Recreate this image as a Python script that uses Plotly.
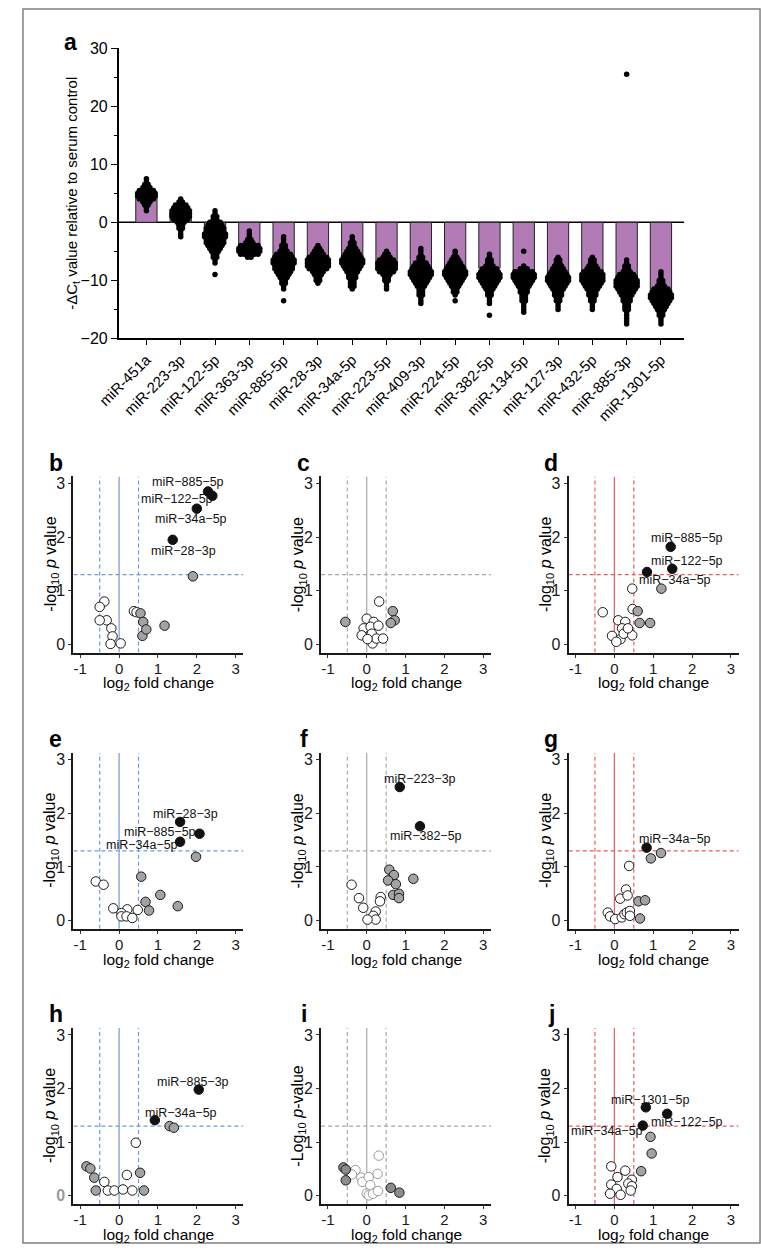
import plotly.graph_objects as go

W, H = 761, 1254
FONT = "Liberation Sans, Arial, Helvetica, sans-serif"

# ---------------- panel a data ----------------
categories = ["miR-451a", "miR-223-3p", "miR-122-5p", "miR-363-3p", "miR-885-5p", "miR-28-3p",
              "miR-34a-5p", "miR-223-5p", "miR-409-3p", "miR-224-5p", "miR-382-5p", "miR-134-5p",
              "miR-127-3p", "miR-432-5p", "miR-885-3p", "miR-1301-5p"]
bar_means = [4.8, 1.6, -2.0, -4.5, -6.8, -6.7, -6.7, -7.3, -8.1, -7.9, -7.9, -9.5, -10.0, -9.8, -10.7, -13.3]

# individual samples, read as value levels and the number of dots drawn at each level
lv_451a = [7.5, 7.0, 6.5, 6.0, 5.5, 5.0, 4.5, 4.0, 3.5, 3.0, 2.5, 2.0]
ct_451a = [1, 1, 2, 3, 5, 6, 6, 5, 3, 2, 1, 1]
lv_223_3p = [4.0, 3.5, 3.0, 2.5, 2.0, 1.5, 1.0, 0.5, 0.0, -0.5, -1.0, -1.5, -2.0, -2.5]
ct_223_3p = [1, 2, 4, 5, 6, 6, 6, 5, 3, 2, 2, 1, 1, 1]
lv_122_5p = [2.0, 1.5, 1.0, 0.5, 0.0, -0.5, -1.0, -1.5, -2.0, -2.5, -3.0, -3.5, -4.0, -4.5, -5.0, -5.5,
             -6.0, -6.5, -7.0, -9.0]
ct_122_5p = [1, 1, 2, 2, 4, 5, 6, 6, 7, 7, 6, 6, 5, 4, 3, 2, 2, 1, 1, 1]
lv_363_3p = [-1.5, -2.0, -2.5, -3.0, -3.5, -4.0, -4.5, -5.0, -5.5, -6.0]
ct_363_3p = [1, 1, 1, 2, 3, 6, 7, 7, 6, 2]
lv_885_5p = [-2.5, -3.0, -3.5, -4.0, -4.5, -5.0, -5.5, -6.0, -6.5, -7.0, -7.5, -8.0, -8.5, -9.0, -9.5,
             -10.0, -10.5, -11.0, -11.5, -13.5]
ct_885_5p = [1, 1, 1, 2, 2, 3, 5, 6, 7, 7, 6, 6, 5, 4, 3, 2, 2, 1, 1, 1]
lv_28_3p = [-4.0, -4.5, -5.0, -5.5, -6.0, -6.5, -7.0, -7.5, -8.0, -8.5, -9.0, -9.5, -10.0, -10.5]
ct_28_3p = [1, 2, 3, 4, 6, 7, 7, 7, 6, 4, 3, 2, 2, 1]
lv_34a_5p = [-2.5, -3.0, -3.5, -4.0, -4.5, -5.0, -5.5, -6.0, -6.5, -7.0, -7.5, -8.0, -8.5, -9.0, -9.5,
             -10.0, -10.5, -11.0, -11.5]
ct_34a_5p = [1, 1, 2, 2, 3, 4, 5, 6, 7, 7, 6, 5, 4, 3, 3, 2, 2, 2, 1]
lv_223_5p = [-5.0, -5.5, -6.0, -6.5, -7.0, -7.5, -8.0, -8.5, -9.0, -9.5, -10.0, -10.5, -11.0, -11.5]
ct_223_5p = [1, 2, 3, 5, 6, 6, 6, 5, 3, 2, 2, 1, 1, 1]
lv_409_3p = [-4.5, -5.0, -5.5, -6.0, -6.5, -7.0, -7.5, -8.0, -8.5, -9.0, -9.5, -10.0, -10.5, -11.0, -11.5,
             -12.0, -12.5, -13.0, -13.5, -14.0]
ct_409_3p = [1, 1, 1, 2, 2, 4, 5, 6, 7, 7, 6, 5, 4, 3, 2, 2, 2, 1, 1, 1]
lv_224_5p = [-5.0, -5.5, -6.0, -6.5, -7.0, -7.5, -8.0, -8.5, -9.0, -9.5, -10.0, -10.5, -11.0, -11.5, -12.0,
             -12.5, -13.5]
ct_224_5p = [1, 1, 2, 3, 4, 5, 6, 7, 7, 6, 5, 4, 3, 2, 2, 1, 1]
lv_382_5p = [-5.5, -6.0, -6.5, -7.0, -7.5, -8.0, -8.5, -9.0, -9.5, -10.0, -10.5, -11.0, -11.5, -12.0, -12.5,
             -13.0, -13.5, -14.0, -16.0]
ct_382_5p = [1, 1, 2, 2, 3, 5, 6, 7, 7, 6, 5, 4, 3, 2, 2, 1, 1, 1, 1]
lv_134_5p = [-5.0, -7.5, -8.0, -8.5, -9.0, -9.5, -10.0, -10.5, -11.0, -11.5, -12.0, -12.5, -13.0, -13.5,
             -14.0, -14.5, -15.0, -15.5]
ct_134_5p = [1, 1, 3, 6, 7, 7, 6, 5, 4, 3, 3, 2, 2, 2, 1, 1, 1, 1]
lv_127_3p = [-6.0, -6.5, -7.0, -7.5, -8.0, -8.5, -9.0, -9.5, -10.0, -10.5, -11.0, -11.5, -12.0, -12.5, -13.0,
             -13.5, -14.0, -14.5, -15.0]
ct_127_3p = [1, 2, 2, 3, 4, 5, 6, 7, 7, 6, 5, 4, 3, 3, 2, 2, 1, 1, 1]
lv_432_5p = [-6.0, -6.5, -7.0, -7.5, -8.0, -8.5, -9.0, -9.5, -10.0, -10.5, -11.0, -11.5, -12.0, -12.5, -13.0,
             -13.5, -14.0, -14.5, -15.0]
ct_432_5p = [1, 2, 2, 3, 4, 6, 7, 7, 7, 6, 5, 4, 3, 3, 2, 2, 1, 1, 1]
lv_885_3p = [25.5, -6.5, -7.0, -7.5, -8.0, -8.5, -9.0, -9.5, -10.0, -10.5, -11.0, -11.5, -12.0, -12.5,
             -13.0, -13.5, -14.0, -14.5, -15.0, -15.5, -16.0, -16.5, -17.0, -17.5]
ct_885_3p = [1, 1, 1, 2, 2, 3, 5, 6, 7, 7, 7, 6, 5, 4, 3, 3, 2, 2, 2, 1, 1, 1, 1, 1]
lv_1301_5p = [-8.5, -9.0, -9.5, -10.0, -10.5, -11.0, -11.5, -12.0, -12.5, -13.0, -13.5, -14.0, -14.5, -15.0,
              -15.5, -16.0, -16.5, -17.0, -17.5]
ct_1301_5p = [1, 1, 1, 2, 2, 3, 5, 6, 7, 7, 6, 5, 4, 3, 2, 2, 1, 1, 1]

swarm_levels = [lv_451a, lv_223_3p, lv_122_5p, lv_363_3p, lv_885_5p, lv_28_3p, lv_34a_5p, lv_223_5p,
                lv_409_3p, lv_224_5p, lv_382_5p, lv_134_5p, lv_127_3p, lv_432_5p, lv_885_3p, lv_1301_5p]
swarm_counts = [ct_451a, ct_223_3p, ct_122_5p, ct_363_3p, ct_885_5p, ct_28_3p, ct_34a_5p, ct_223_5p,
                ct_409_3p, ct_224_5p, ct_382_5p, ct_134_5p, ct_127_3p, ct_432_5p, ct_885_3p, ct_1301_5p]

# ---------------- volcano data (log2 FC, -log10 p, group n/g/s) ----------------
b_x = [-0.38, -0.5, -0.32, -0.5, -0.2, -0.17, -0.22, 0.04, 0.38, 0.45, 0.6, 0.55, 0.62, 0.7, 1.17, 1.9, 2.29, 2.4, 2.0, 1.38]
b_y = [0.8, 0.7, 0.45, 0.45, 0.3, 0.15, 0.01, 0.02, 0.62, 0.6, 0.16, 0.58, 0.42, 0.28, 0.35, 1.27, 2.85, 2.77, 2.53, 1.95]
b_grp = "nnnnnnnnnnggggggssss"
b_lab = ["miR−885−5p", "miR−122−5p", "miR−34a−5p", "miR−28−3p"]
b_lab_x = [1.77, 1.49, 1.84, 1.65]
b_lab_y = [3.03, 2.71, 2.33, 1.75]

c_x = [0.32, 0.0, 0.18, -0.08, 0.1, 0.3, -0.13, 0.13, 0.15, 0.25, 0.42, 0.02, -0.55, 0.67, 0.72, 0.62]
c_y = [0.8, 0.48, 0.42, 0.3, 0.33, 0.35, 0.17, 0.2, 0.02, 0.11, 0.11, 0.1, 0.42, 0.62, 0.45, 0.4]
c_grp = "nnnnnnnnnnnngggg"

d_x = [0.46, 0.47, -0.3, 0.1, 0.28, 0.2, -0.06, 0.16, 0.24, 0.46, 0.05, 0.35, 1.21, 0.6, 0.65, 0.92, 1.45, 1.49, 0.84]
d_y = [1.04, 0.66, 0.6, 0.45, 0.42, 0.3, 0.16, 0.1, 0.2, 0.17, 0.05, 0.3, 1.04, 0.62, 0.4, 0.4, 1.82, 1.41, 1.35]
d_grp = "nnnnnnnnnnnnggggsss"
d_lab = ["miR−885−5p", "miR−122−5p", "miR−34a−5p"]
d_lab_x = [1.88, 1.86, 1.55]
d_lab_y = [1.98, 1.56, 1.21]

e_x = [-0.6, -0.4, -0.15, 0.21, 0.48, 0.06, 0.06, 0.19, 0.34, 0.57, 0.68, 1.06, 0.77, 1.51, 1.98, 1.57, 2.07, 1.57]
e_y = [0.73, 0.67, 0.23, 0.21, 0.2, 0.14, 0.08, 0.08, 0.05, 0.82, 0.35, 0.48, 0.19, 0.27, 1.19, 1.84, 1.62, 1.47]
e_grp = "nnnnnnnnnggggggsss"
e_lab = ["miR−28−3p", "miR−885−5p", "miR−34a−5p"]
e_lab_x = [1.71, 1.06, 0.59]
e_lab_y = [1.98, 1.65, 1.41]

f_x = [-0.39, -0.2, 0.36, 0.34, -0.09, 0.23, 0.17, 0.23, 0.02, 0.58, 0.7, 0.55, 0.75, 1.2, 0.68, 0.83, 0.83, 0.85, 1.37]
f_y = [0.67, 0.42, 0.44, 0.36, 0.24, 0.17, 0.09, 0.02, 0.02, 0.95, 0.85, 0.75, 0.68, 0.78, 0.48, 0.5, 0.42, 2.49, 1.76]
f_grp = "nnnnnnnnnggggggggss"
f_lab = ["miR−223−3p", "miR−382−5p"]
f_lab_x = [1.36, 1.53]
f_lab_y = [2.64, 1.58]

g_x = [0.38, 0.3, 0.15, 0.34, -0.17, -0.11, 0.02, 0.19, 0.26, 0.32, 0.4, 0.4, 1.2, 0.94, 0.62, 0.79, 0.66, 0.83]
g_y = [1.02, 0.58, 0.41, 0.47, 0.15, 0.08, 0.03, 0.06, 0.12, 0.15, 0.18, 0.09, 1.26, 1.16, 0.36, 0.38, 0.04, 1.36]
g_grp = "nnnnnnnnnnnngggggs"
g_lab = ["miR−34a−5p"]
g_lab_x = [1.55]
g_lab_y = [1.53]

h_x = [0.43, -0.38, -0.29, -0.12, 0.1, 0.2, 0.34, 1.30, 1.41, -0.84, -0.74, -0.64, -0.6, 0.54, 0.64, 2.05, 0.92]
h_y = [0.99, 0.26, 0.1, 0.1, 0.12, 0.39, 0.1, 1.3, 1.27, 0.55, 0.51, 0.34, 0.1, 0.43, 0.1, 1.98, 1.41]
h_grp = "nnnnnnnggggggggss"
h_lab = ["miR−885−3p", "miR−34a−5p"]
h_lab_x = [1.89, 1.59]
h_lab_y = [2.12, 1.54]

i_x = [-0.29, -0.38, -0.14, -0.11, 0.05, 0.09, 0.0, 0.05, 0.16, 0.29, 0.28, 0.31, -0.6, -0.54, -0.54, 0.62, 0.84]
i_y = [0.48, 0.4, 0.34, 0.26, 0.35, 0.2, 0.04, 0.01, 0.04, 0.09, 0.41, 0.75, 0.53, 0.49, 0.29, 0.15, 0.06]
i_grp = "nnnnnnnnnnnnggggg"

j_x = [-0.08, 0.28, 0.08, 0.45, 0.36, 0.45, -0.08, 0.06, 0.16, -0.11, 0.42, 0.93, 0.96, 0.69, 0.81, 1.36, 0.73]
j_y = [0.55, 0.47, 0.35, 0.3, 0.23, 0.18, 0.21, 0.13, 0.02, 0.04, 0.1, 1.1, 0.79, 0.46, 1.65, 1.53, 1.31]
j_grp = "nnnnnnnnnnngggsss"
j_lab = ["miR−1301−5p", "miR−122−5p", "miR−34a−5p"]
j_lab_x = [0.94, 1.88, -0.18]
j_lab_y = [1.79, 1.37, 1.21]

# ---------------- styling ----------------
BAR_COLOR = "#B37BB5"
BLUE, GREY, RED = "#6E9BDB", "#A9A9A9", "#EE5B5B"


def fx(px):
    return px / W


def fy(py):
    return 1 - py / H


fig = go.Figure()
annotations = []
shapes = []

# ---------------- panel a ----------------
A_LEFT, A_RIGHT, A_TOP, A_BOT = 99.5, 682.0, 40.7, 335.0
XR = (-0.81, 15.68)
YR = (-20, 30)
px_per_cat = (A_RIGHT - A_LEFT) / (XR[1] - XR[0])
DOT_GAP = 3.6  # horizontal spacing of dots within one row, in pixels

fig.add_trace(go.Bar(x=list(range(len(categories))), y=bar_means, width=0.62,
                     marker=dict(color=BAR_COLOR, line=dict(color="#222222", width=1)),
                     xaxis="x", yaxis="y", showlegend=False))
sx, sy = [], []
for ci, (levels, counts) in enumerate(zip(swarm_levels, swarm_counts)):
    for lv, k in zip(levels, counts):
        for j in range(k):
            off_px = (j - (k - 1) / 2.0) * DOT_GAP
            sx.append(ci + off_px / px_per_cat)
            sy.append(lv)
fig.add_trace(go.Scatter(x=sx, y=sy, mode="markers", marker=dict(color="black", size=5.5),
                         xaxis="x", yaxis="y", showlegend=False, hoverinfo="skip"))

shapes.append(dict(type="line", xref="x", yref="y", x0=XR[0], x1=XR[1], y0=0, y1=0,
                   line=dict(color="black", width=1.5), layer="below"))

layout = dict(
    width=W, height=H, margin=dict(l=0, r=0, t=0, b=0),
    paper_bgcolor="white", plot_bgcolor="white", showlegend=False,
    font=dict(family=FONT, color="black"),
    xaxis=dict(domain=[fx(A_LEFT), fx(A_RIGHT)], range=list(XR), tickmode="array",
               tickvals=list(range(len(categories))), ticktext=categories, tickangle=-45,
               ticks="outside", ticklen=5, tickcolor="black", showline=True, linecolor="black",
               linewidth=1.5, showgrid=False, zeroline=False, tickfont=dict(size=15), anchor="y"),
    yaxis=dict(domain=[fy(A_BOT), fy(A_TOP)], range=list(YR), tickmode="array",
               tickvals=[-20, -10, 0, 10, 20, 30], ticks="outside", ticklen=6, tickcolor="black",
               showline=True, linecolor="black", linewidth=1.5, showgrid=False, zeroline=False,
               tickfont=dict(size=16),
               minor=dict(tickvals=[-15, -5, 5, 15, 25], ticks="outside", ticklen=3, tickcolor="black"),
               anchor="x"),
)
annotations.append(dict(text="<b>a</b>", x=fx(50), y=fy(34), xref="paper", yref="paper",
                        showarrow=False, font=dict(size=23), xanchor="center", yanchor="middle"))
annotations.append(dict(text="-ΔC<sub>t</sub> value relative to serum control", x=fx(52),
                        y=fy((A_TOP + A_BOT) / 2), xref="paper", yref="paper", showarrow=False,
                        textangle=-90, font=dict(size=15), xanchor="center", yanchor="middle"))

# ---------------- volcano panels ----------------
panels = [
    ("b", b_x, b_y, b_grp, BLUE, b_lab, b_lab_x, b_lab_y, 0, 0),
    ("c", c_x, c_y, c_grp, GREY, [], [], [], 0, 1),
    ("d", d_x, d_y, d_grp, RED, d_lab, d_lab_x, d_lab_y, 0, 2),
    ("e", e_x, e_y, e_grp, BLUE, e_lab, e_lab_x, e_lab_y, 1, 0),
    ("f", f_x, f_y, f_grp, GREY, f_lab, f_lab_x, f_lab_y, 1, 1),
    ("g", g_x, g_y, g_grp, RED, g_lab, g_lab_x, g_lab_y, 1, 2),
    ("h", h_x, h_y, h_grp, BLUE, h_lab, h_lab_x, h_lab_y, 2, 0),
    ("i", i_x, i_y, i_grp, GREY, [], [], [], 2, 1),
    ("j", j_x, j_y, j_grp, RED, j_lab, j_lab_x, j_lab_y, 2, 2),
]
X0S = [100, 355, 610]
Y3S = [482, 762, 1041]
UX, UY = 40.0, 54.4
XRANGE = (-1.175, 3.2)
YRANGE = (-0.15, 3.13)

for n, (letter, xs, ys, grp, lc, labs, lx, ly, r, c) in enumerate(panels, start=2):
    x0 = X0S[c]
    y3 = Y3S[r]
    left = x0 + XRANGE[0] * UX
    right = x0 + XRANGE[1] * UX
    top = y3 - (YRANGE[1] - 3) * UY
    bot = y3 + (3 - YRANGE[0]) * UY
    xa, ya = f"x{n}", f"y{n}"
    special_i = letter == "i"
    yticktext = ["0", "1", "2", "3"]
    if letter == "h":
        yticktext = ["<span style='color:#9a9a9a'><b>0</b></span>", "1", "2", "3"]
    layout[f"xaxis{n}"] = dict(domain=[fx(left), fx(right)], range=list(XRANGE), anchor=ya,
                               tickmode="array", tickvals=[-1, 0, 1, 2, 3],
                               ticktext=["-1", "0", "1", "2", "3"],
                               ticks="outside", ticklen=3, tickcolor="#333333", showline=True,
                               linecolor="#1a1a1a", linewidth=2, showgrid=False, zeroline=False,
                               ticklabelstandoff=-2,
                               tickfont=dict(size=15, color="#1a1a1a"))
    layout[f"yaxis{n}"] = dict(domain=[fy(bot), fy(top)], range=list(YRANGE), anchor=xa,
                               tickmode="array", tickvals=[0, 1, 2, 3], ticktext=yticktext,
                               ticks="outside", ticklen=3, tickcolor="#333333", showline=True,
                               linecolor="#1a1a1a", linewidth=2, showgrid=False, zeroline=False,
                               tickfont=dict(size=16, color="#1a1a1a"))
    for xv, dash in [(-0.5, "4px,3px"), (0.5, "4px,3px"), (0.0, "solid")]:
        shapes.append(dict(type="line", xref=xa, yref=ya, x0=xv, x1=xv, y0=YRANGE[0], y1=YRANGE[1],
                           line=dict(color=lc, width=1.2, dash=dash), layer="below"))
    shapes.append(dict(type="line", xref=xa, yref=ya, x0=XRANGE[0], x1=XRANGE[1], y0=1.30103,
                       y1=1.30103, line=dict(color=lc, width=1.2, dash="4px,3px"), layer="below"))
    styles = {
        "n": ("white", "#9a9a9a" if special_i else "#1a1a1a"),
        "g": ("#8c8c8c" if special_i else "#a3a3a3", "#1a1a1a"),
        "s": ("#111111", "#111111"),
    }
    for key in ["n", "g", "s"]:
        px_ = [xv for xv, gk in zip(xs, grp) if gk == key]
        py_ = [yv for yv, gk in zip(ys, grp) if gk == key]
        if not px_:
            continue
        fill, edge = styles[key]
        fig.add_trace(go.Scatter(x=px_, y=py_, mode="markers", xaxis=xa, yaxis=ya,
                                 marker=dict(size=9.5, color=fill, line=dict(color=edge, width=1)),
                                 showlegend=False, hoverinfo="skip"))
    for t, tx, ty in zip(labs, lx, ly):
        annotations.append(dict(text=t, x=tx, y=ty, xref=xa, yref=ya, showarrow=False,
                                font=dict(size=12.5, color="#111111"), xanchor="center",
                                yanchor="middle"))
    annotations.append(dict(text=f"<b>{letter}</b>", x=fx(left - 18), y=fy(y3 - 21), xref="paper",
                            yref="paper", showarrow=False, font=dict(size=23), xanchor="center",
                            yanchor="middle"))
    annotations.append(dict(text="log<sub>2</sub> fold change", x=fx((left + right) / 2),
                            y=fy(y3 + 3 * UY + 40), xref="paper", yref="paper", showarrow=False,
                            font=dict(size=15.5), xanchor="center", yanchor="middle"))
    ytitle = "-Log<sub>10</sub> <i>p</i>-value" if special_i else "-log<sub>10</sub> <i>p</i> value"
    annotations.append(dict(text=ytitle, x=fx(x0 - 70), y=fy((top + bot) / 2), xref="paper",
                            yref="paper", showarrow=False, textangle=-90, font=dict(size=16),
                            xanchor="center", yanchor="middle"))

shapes.append(dict(type="rect", xref="paper", yref="paper", x0=fx(1), x1=fx(760), y0=fy(1252),
                   y1=fy(1), line=dict(color="#808080", width=1.5), layer="above"))

layout["annotations"] = annotations
layout["shapes"] = shapes
fig.update_layout(**layout)
fig.write_html("out.html")
